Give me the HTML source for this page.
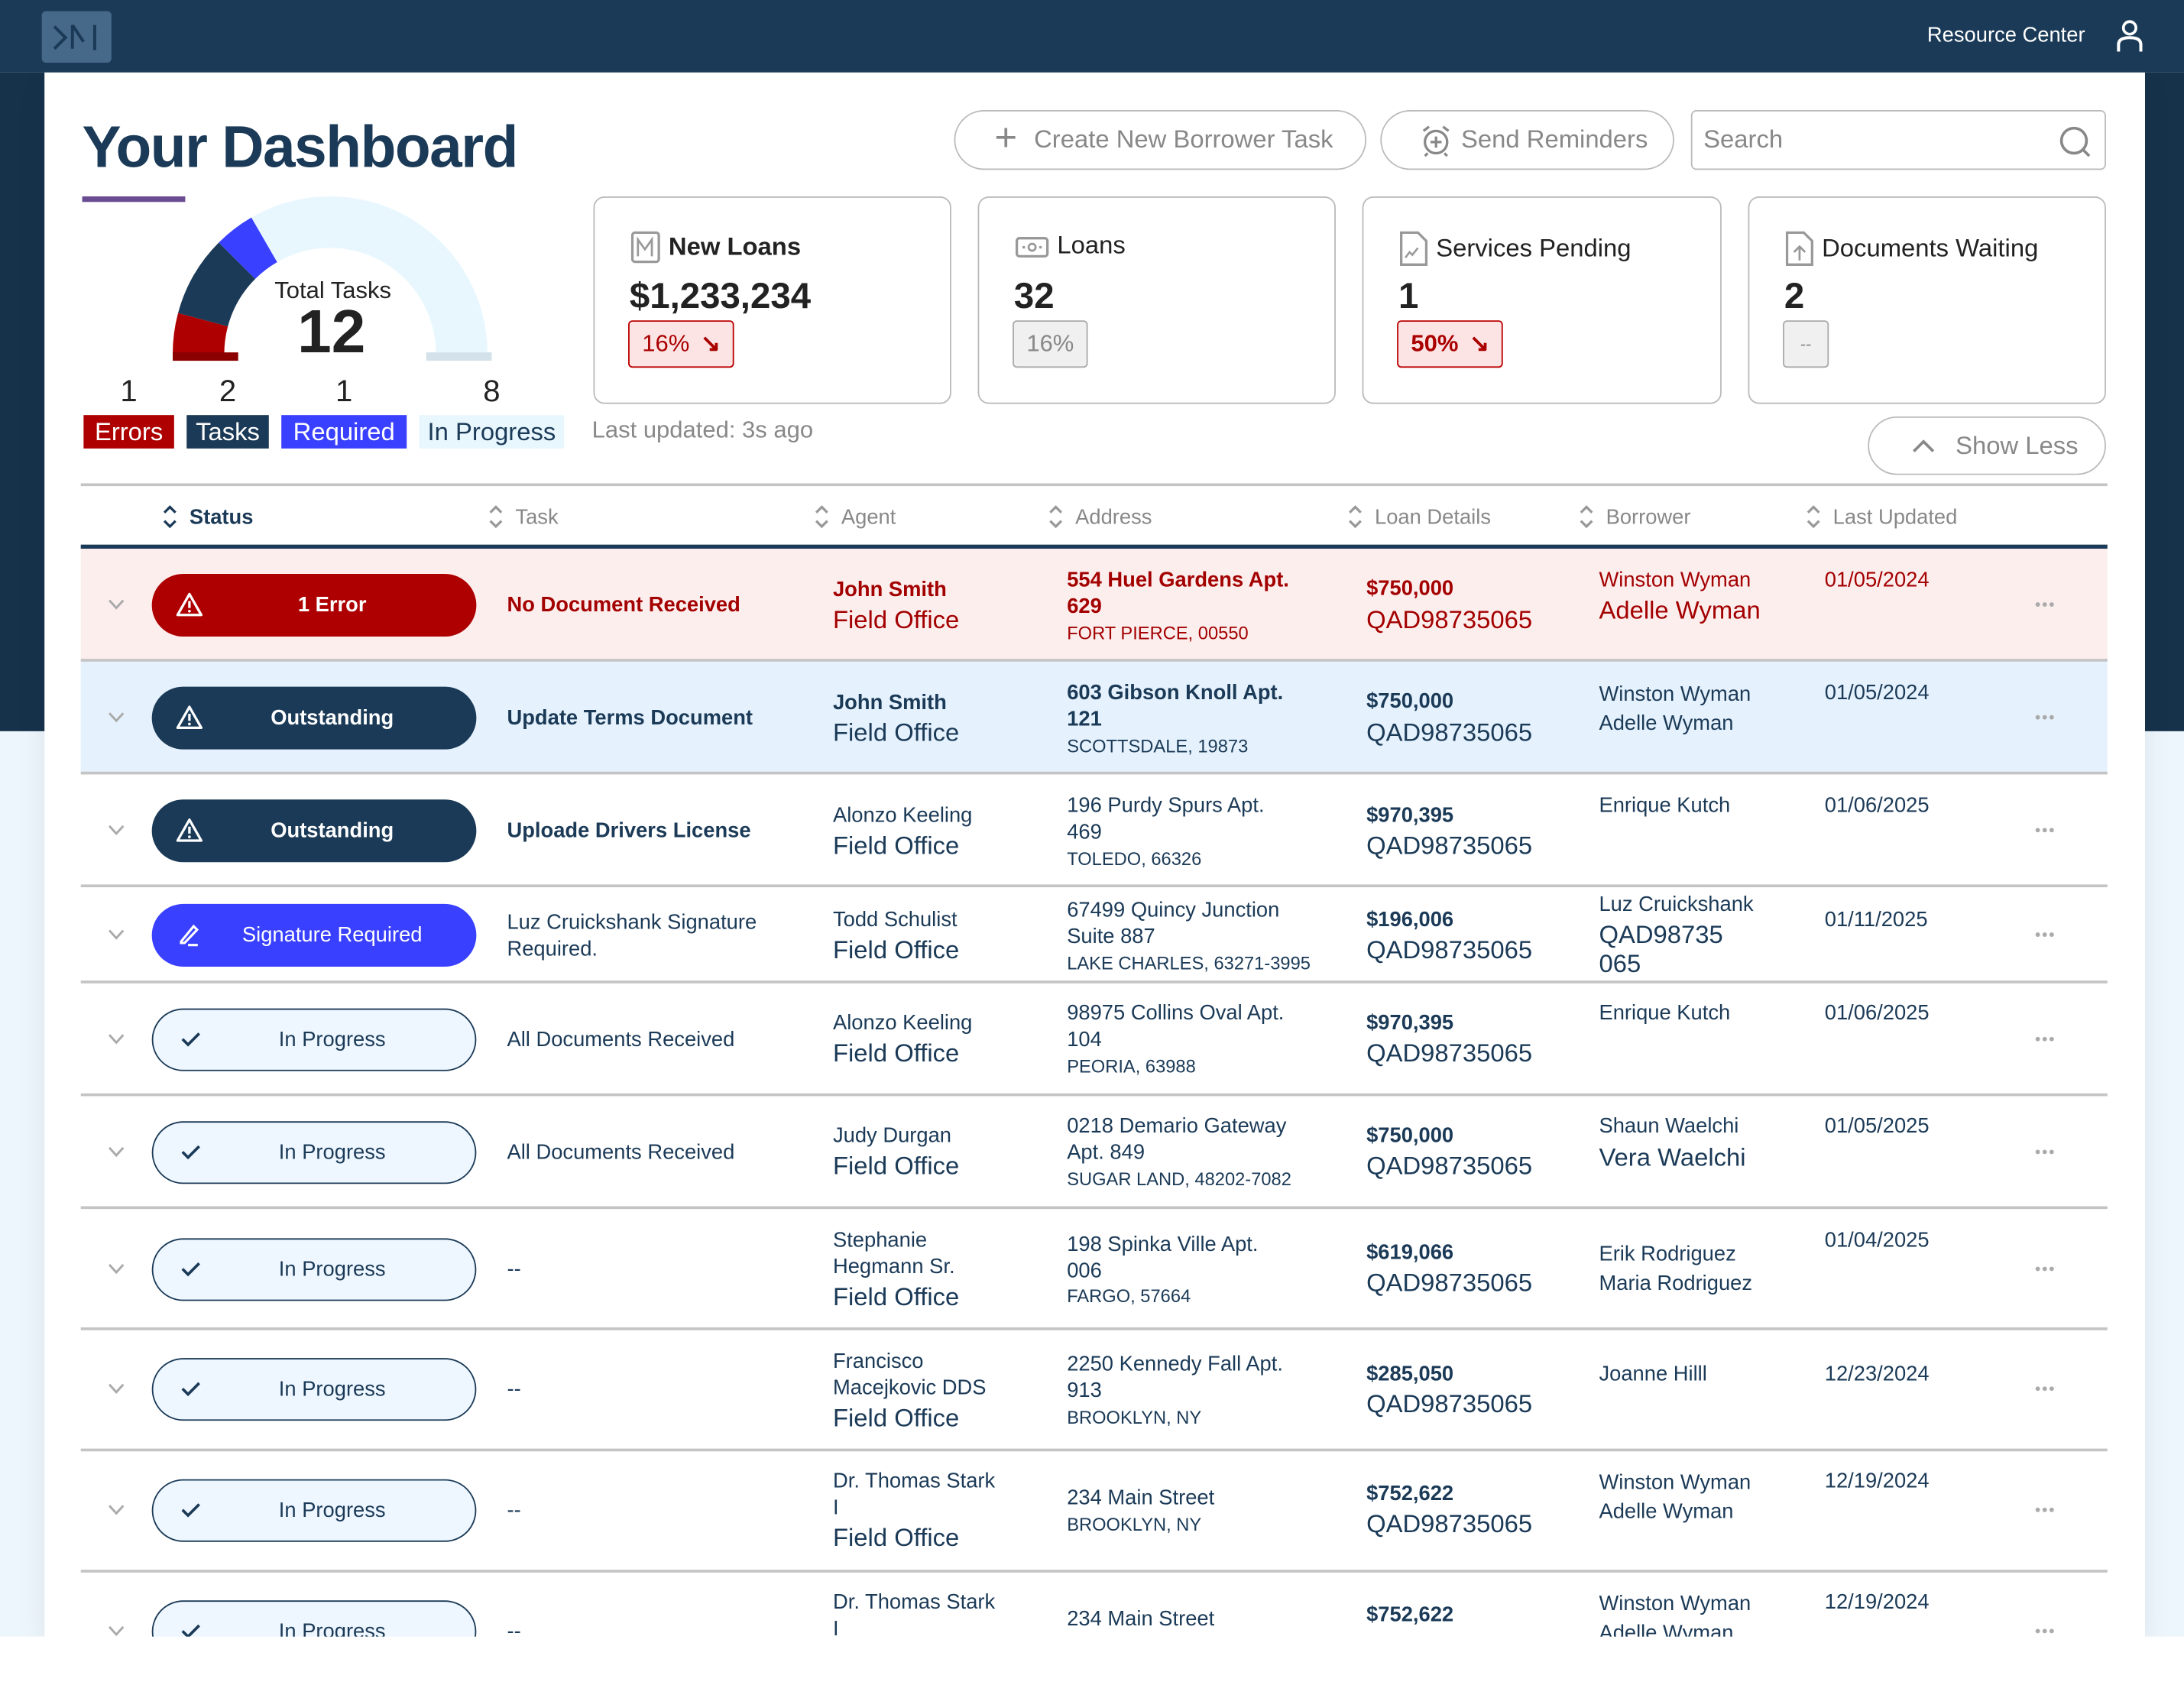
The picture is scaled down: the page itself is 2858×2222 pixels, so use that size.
<!DOCTYPE html>
<html><head><meta charset="utf-8">
<style>
*{box-sizing:border-box;margin:0;padding:0}
html,body{width:2858px;height:2222px;overflow:hidden;background:#fff;font-family:"Liberation Sans",sans-serif}
#root{position:absolute;left:0;top:0;width:1568px;height:1219px;transform:scale(1.822704);transform-origin:0 0;background:#fff;overflow:hidden}
.a{position:absolute;white-space:nowrap}
.a > svg{display:block}
.btn{position:absolute;border:1.5px solid #bbb;border-radius:22px;color:#888;font-size:18px;display:flex;align-items:center;background:#fff}
.card{position:absolute;top:141px;height:149px;border:1.5px solid #bbb;border-radius:8px;background:#fff}
.ct{position:absolute;left:26px;top:24px;font-size:18px;color:#222;display:flex;align-items:center;gap:6px}
.cv{position:absolute;left:25px;top:55px;font-size:26px;font-weight:bold;color:#222}
.bd{position:absolute;left:24px;top:88px;height:34px;border-radius:3px;font-size:17px;display:flex;align-items:center;padding:0 9px}
.red{border:1.5px solid #b00;background:#fde4e4;color:#a00}
.gray{border:1.5px solid #aaa;background:#f0f0f0;color:#888}
.hd{position:absolute;top:362px;font-size:15px;color:#888;display:flex;align-items:center;gap:8px}
.line{position:absolute;left:58px;width:1455px;height:2px;background:#c4c4c4}
.pill{position:absolute;left:109px;width:233px;height:45px;border-radius:23px;display:flex;align-items:center;font-size:15px}
.pill svg{position:absolute;left:17px}
.pill span{position:absolute;left:26px;right:0;text-align:center}
</style></head>
<body>
<div id="root">
  <div class="a" style="left:0;top:52px;width:32px;height:473px;background:#16324b"></div>
  <div class="a" style="left:1540px;top:52px;width:28px;height:473px;background:#16324b"></div>
  <div class="a" style="left:0;top:525px;width:32px;height:650px;background:#eef6fd"></div>
  <div class="a" style="left:1540px;top:525px;width:28px;height:650px;background:#eef6fd"></div>
  <div class="a" style="left:32px;top:52px;width:1508px;height:1123px;background:#fff;box-shadow:0 8px 20px rgba(0,0,0,0.08)"></div>

  <div class="a" style="left:0;top:0;width:1568px;height:52px;background:#1b3a57">
    <div class="a" style="left:30px;top:8px;width:50px;height:37px;background:#46698a;border-radius:3px">
      <svg width="50" height="37" viewBox="0 0 50 37"><path d="M9 11 L17 19 L9 27 M22 10 L22 27 M22 10 L30 22 M38 10 L38 28" stroke="#1b3a57" stroke-width="2.2" fill="none"/></svg>
    </div>
    <div class="a" style="right:71px;top:17px;font-size:15px;color:#fff">Resource Center</div>
    <svg class="a" style="left:1518px;top:14px" width="22" height="24" viewBox="0 0 22 24"><circle cx="11" cy="6" r="4.5" stroke="#fff" stroke-width="2" fill="none"/><path d="M3 23 V18 Q3 13 11 13 Q19 13 19 18 V23" stroke="#fff" stroke-width="2.2" fill="none"/></svg>
  </div>

  <div class="a" style="left:59px;top:82px;font-size:42px;font-weight:bold;color:#1b3a57;letter-spacing:-0.8px">Your Dashboard</div>
  <div class="a" style="left:59px;top:141px;width:74px;height:4px;background:#6a4c93"></div>

  <svg class="a" id="gauge" style="left:0;top:0" width="420" height="340"></svg>

  <div class="btn" style="left:685px;top:79px;width:296px;height:43px;padding-left:28px"><span style="font-size:28px;font-weight:300;margin-right:12px;margin-top:-3px">+</span>Create New Borrower Task</div>
  <div class="btn" style="left:991px;top:79px;width:211px;height:43px;padding-left:26px"><svg width="26" height="26" viewBox="0 0 26 26" style="margin-right:5px"><circle cx="13" cy="14" r="8" stroke="#888" stroke-width="1.8" fill="none"/><path d="M13 10v8M9 14h8M4 6l4-3M22 6l-4-3M7 22l-2 2M19 22l2 2" stroke="#888" stroke-width="1.8"/></svg>Send Reminders</div>
  <div class="btn" style="left:1214px;top:79px;width:298px;height:43px;border-radius:4px;padding-left:8px">Search<svg class="a" style="right:8px;top:9px" width="26" height="26" viewBox="0 0 26 26"><circle cx="12" cy="12" r="9" stroke="#888" stroke-width="2" fill="none"/><path d="M18.5 18.5 L23 23" stroke="#888" stroke-width="2"/></svg></div>

  <div class="card" style="left:426px;width:257px">
    <div class="ct" style="font-weight:bold"><svg width="21" height="23" viewBox="0 0 21 23"><rect x="1" y="1" width="19" height="21" rx="2" stroke="#999" stroke-width="1.8" fill="none"/><path d="M5 18V6l5 7 5-7v12" stroke="#999" stroke-width="1.5" fill="none"/></svg>New Loans</div>
    <div class="cv">$1,233,234</div>
    <div class="bd red">16% <b style="margin-left:8px">&#8600;</b></div>
  </div>
  <div class="card" style="left:702px;width:257px">
    <div class="ct"><svg width="24" height="18" viewBox="0 0 24 18"><rect x="1" y="3" width="22" height="13" rx="2" stroke="#999" stroke-width="1.8" fill="none"/><circle cx="12" cy="9.5" r="2.5" stroke="#999" stroke-width="1.5" fill="none"/><circle cx="6" cy="9.5" r="1" fill="#999"/><circle cx="18" cy="9.5" r="1" fill="#999"/></svg>Loans</div>
    <div class="cv">32</div>
    <div class="bd gray">16%</div>
  </div>
  <div class="card" style="left:978px;width:258px">
    <div class="ct"><svg width="20" height="25" viewBox="0 0 20 25"><path d="M1 1h12l6 6v17H1z" stroke="#999" stroke-width="1.8" fill="none"/><path d="M4 19l3-4 2 2 4-5" stroke="#999" stroke-width="1.4" fill="none"/></svg>Services Pending</div>
    <div class="cv">1</div>
    <div class="bd red" style="font-weight:bold">50% <b style="margin-left:8px">&#8600;</b></div>
  </div>
  <div class="card" style="left:1255px;width:257px">
    <div class="ct"><svg width="20" height="25" viewBox="0 0 20 25"><path d="M1 1h12l6 6v17H1z" stroke="#999" stroke-width="1.8" fill="none"/><path d="M10 21v-9M6 15l4-4 4 4" stroke="#999" stroke-width="1.5" fill="none"/></svg>Documents Waiting</div>
    <div class="cv">2</div>
    <div class="bd gray" style="width:33px;padding:0;justify-content:center;font-size:12px">--</div>
  </div>
  <div class="a" style="left:425px;top:299px;font-size:17px;color:#888">Last updated: 3s ago</div>
  <div class="btn" style="left:1341px;top:299px;width:171px;height:42px;padding-left:30px"><svg width="18" height="12" viewBox="0 0 18 12" style="margin-right:14px"><path d="M2 10 L9 3 L16 10" stroke="#888" stroke-width="2" fill="none"/></svg>Show Less</div>

  <div class="line" style="top:347px"></div>
  <div class="a" style="left:58px;top:391px;width:1455px;height:3px;background:#1b3a57"></div>
  <div id="headers"></div>
  <div id="rows"></div>
  <div class="a" style="left:0;top:1175px;width:1568px;height:44px;background:#fff"></div>
</div>
<script>
// ---- Gauge data ----
const gaugeLabels = ["Errors", "Tasks", "Required", "In Progress"];
const gaugeValues = [1, 2, 1, 8];
const gaugeFill = ["#ae0000", "#1b3a57", "#3940ff", "#e8f7fe"];
const gaugeText = ["#fff", "#fff", "#fff", "#1b3a57"];

const NS = "http://www.w3.org/2000/svg";
const g = document.getElementById('gauge');
const cx = 237, cy = 254, ro = 113, ri = 76;
const total = gaugeValues.reduce((a, b) => a + b, 0);
function pt(r, deg) { const a = Math.PI * (1 - deg / 180); return [cx + r * Math.cos(a), cy - r * Math.sin(a)]; }
function angleScale(v) { return v / total * 180; }
let acc = 0;
gaugeValues.forEach((v, i) => {
  const a0 = angleScale(acc), a1 = angleScale(acc + v); acc += v;
  const p0 = pt(ro, a0), p1 = pt(ro, a1), p2 = pt(ri, a1), p3 = pt(ri, a0);
  const large = (a1 - a0) > 180 ? 1 : 0;
  const p = document.createElementNS(NS, 'path');
  p.setAttribute('d', `M${p0[0]},${p0[1]} A${ro},${ro} 0 ${large} 1 ${p1[0]},${p1[1]} L${p2[0]},${p2[1]} A${ri},${ri} 0 ${large} 0 ${p3[0]},${p3[1]} Z`);
  p.setAttribute('fill', gaugeFill[i]);
  
  
  g.appendChild(p);
});
[[cx - ro + 5, "#8b0000"], [cx + ri - 2, "#d3e2ea"]].forEach(c => {
  const r = document.createElementNS(NS, 'rect');
  r.setAttribute('x', c[0] - 5); r.setAttribute('y', cy - 1); r.setAttribute('width', 47); r.setAttribute('height', 6); r.setAttribute('fill', c[1]);
  
  
  g.appendChild(r);
});
function svgText(x, y, t, size, weight, fill) {
  const e = document.createElementNS(NS, 'text');
  e.setAttribute('x', x); e.setAttribute('y', y); e.setAttribute('text-anchor', 'middle');
  e.setAttribute('font-size', size); e.setAttribute('font-weight', weight); e.setAttribute('fill', fill);
  e.setAttribute('font-family', 'Liberation Sans, sans-serif');
  e.textContent = t; g.appendChild(e); return e;
}
const tt = svgText(239, 214, "Total Tasks", 17, "normal", "#222");


const tv = svgText(238, 253, String(total), 44, "bold", "#222");


const legX = [[60, 65], [134, 59], [202, 90], [301, 104]];
gaugeLabels.forEach((l, i) => {
  const [x, w] = legX[i];
  const n = svgText(x + w / 2, 288, String(gaugeValues[i]), 22, "normal", "#222");
  
  
  const r = document.createElementNS(NS, 'rect');
  r.setAttribute('x', x); r.setAttribute('y', 298); r.setAttribute('width', w); r.setAttribute('height', 24); r.setAttribute('fill', gaugeFill[i]);
  
  
  g.appendChild(r);
  const t = svgText(x + w / 2, 316, l, 18, "normal", gaugeText[i]);
  
  
});

// ---- Table headers ----
const headers = [["Status", 114, true], ["Task", 348], ["Agent", 582], ["Address", 750], ["Loan Details", 965], ["Borrower", 1131], ["Last Updated", 1294]];
const hc = document.getElementById('headers');
headers.forEach(h => {
  const d = document.createElement('div');
  d.className = 'hd';
  d.style.left = (h[1] + 2) + 'px';
  if (h[2]) { d.style.color = '#1b3a57'; d.style.fontWeight = 'bold'; }
  const col = h[2] ? '#1b3a57' : '#999';
  d.innerHTML = `<svg width="12" height="18" viewBox="0 0 12 18"><path d="M2 6 L6 2 L10 6 M2 12 L6 16 L10 12" stroke="${col}" stroke-width="1.8" fill="none"/></svg>${h[0]}`;
  
  
  hc.appendChild(d);
});

// ---- Rows ----
const rows = [
 {top:393,h:81,bg:"#fdeeee",red:true,kind:"error",label:"1 Error",py:434,cells:[
  [364,434,"No Document Received",15,1],[598,423,"John Smith",15,1],[598,445,"Field Office",18,0],
  [766,416,"554 Huel Gardens Apt.",15,1],[766,435,"629",15,1],[766,454,"FORT PIERCE, 00550",13,0],
  [981,422,"$750,000",15,1],[981,445,"QAD98735065",18,0],[1148,416,"Winston Wyman",15,0],[1148,438,"Adelle Wyman",18,0],[1310,416,"01/05/2024",15,0]]},
 {top:474,h:81,bg:"#e5f2fd",kind:"out",label:"Outstanding",py:515,cells:[
  [364,515,"Update Terms Document",15,1],[598,504,"John Smith",15,1],[598,526,"Field Office",18,0],
  [766,497,"603 Gibson Knoll Apt.",15,1],[766,516,"121",15,1],[766,535,"SCOTTSDALE, 19873",13,0],
  [981,503,"$750,000",15,1],[981,526,"QAD98735065",18,0],[1148,498,"Winston Wyman",15,0],[1148,519,"Adelle Wyman",15,0],[1310,497,"01/05/2024",15,0]]},
 {top:555,h:81,kind:"out",label:"Outstanding",py:596,cells:[
  [364,596,"Uploade Drivers License",15,1],[598,585,"Alonzo Keeling",15,0],[598,607,"Field Office",18,0],
  [766,578,"196 Purdy Spurs Apt.",15,0],[766,597,"469",15,0],[766,616,"TOLEDO, 66326",13,0],
  [981,585,"$970,395",15,1],[981,607,"QAD98735065",18,0],[1148,578,"Enrique Kutch",15,0],[1310,578,"01/06/2025",15,0]]},
 {top:636,h:69,kind:"sig",label:"Signature Required",py:671,cells:[
  [364,662,"Luz Cruickshank Signature",15,0],[364,681,"Required.",15,0],[598,660,"Todd Schulist",15,0],[598,682,"Field Office",18,0],
  [766,653,"67499 Quincy Junction",15,0],[766,672,"Suite 887",15,0],[766,691,"LAKE CHARLES, 63271-3995",13,0],
  [981,660,"$196,006",15,1],[981,682,"QAD98735065",18,0],[1148,649,"Luz Cruickshank",15,0],[1148,671,"QAD98735",18,0],[1148,692,"065",18,0],[1310,660,"01/11/2025",15,0]]},
 {top:705,h:81,kind:"prog",label:"In Progress",py:746,cells:[
  [364,746,"All Documents Received",15,0],[598,734,"Alonzo Keeling",15,0],[598,756,"Field Office",18,0],
  [766,727,"98975 Collins Oval Apt.",15,0],[766,746,"104",15,0],[766,765,"PEORIA, 63988",13,0],
  [981,734,"$970,395",15,1],[981,756,"QAD98735065",18,0],[1148,727,"Enrique Kutch",15,0],[1310,727,"01/06/2025",15,0]]},
 {top:786,h:81,kind:"prog",label:"In Progress",py:827,cells:[
  [364,827,"All Documents Received",15,0],[598,815,"Judy Durgan",15,0],[598,837,"Field Office",18,0],
  [766,808,"0218 Demario Gateway",15,0],[766,827,"Apt. 849",15,0],[766,846,"SUGAR LAND, 48202-7082",13,0],
  [981,815,"$750,000",15,1],[981,837,"QAD98735065",18,0],[1148,808,"Shaun Waelchi",15,0],[1148,831,"Vera Waelchi",18,0],[1310,808,"01/05/2025",15,0]]},
 {top:867,h:87,kind:"prog",label:"In Progress",py:911,cells:[
  [364,911,"--",15,0],[598,890,"Stephanie",15,0],[598,909,"Hegmann Sr.",15,0],[598,931,"Field Office",18,0],
  [766,893,"198 Spinka Ville Apt.",15,0],[766,912,"006",15,0],[766,930,"FARGO, 57664",13,0],
  [981,899,"$619,066",15,1],[981,921,"QAD98735065",18,0],[1148,900,"Erik Rodriguez",15,0],[1148,921,"Maria Rodriguez",15,0],[1310,890,"01/04/2025",15,0]]},
 {top:954,h:87,kind:"prog",label:"In Progress",py:997,cells:[
  [364,997,"--",15,0],[598,977,"Francisco",15,0],[598,996,"Macejkovic DDS",15,0],[598,1018,"Field Office",18,0],
  [766,979,"2250 Kennedy Fall Apt.",15,0],[766,998,"913",15,0],[766,1017,"BROOKLYN, NY",13,0],
  [981,986,"$285,050",15,1],[981,1008,"QAD98735065",18,0],[1148,986,"Joanne Hilll",15,0],[1310,986,"12/23/2024",15,0]]},
 {top:1041,h:87,kind:"prog",label:"In Progress",py:1084,cells:[
  [364,1084,"--",15,0],[598,1063,"Dr. Thomas Stark",15,0],[598,1082,"I",15,0],[598,1104,"Field Office",18,0],
  [766,1075,"234 Main Street",15,0],[766,1094,"BROOKLYN, NY",13,0],
  [981,1072,"$752,622",15,1],[981,1094,"QAD98735065",18,0],[1148,1064,"Winston Wyman",15,0],[1148,1085,"Adelle Wyman",15,0],[1310,1063,"12/19/2024",15,0]]},
 {top:1128,h:87,kind:"prog",label:"In Progress",py:1171,cells:[
  [364,1171,"--",15,0],[598,1150,"Dr. Thomas Stark",15,0],[598,1169,"I",15,0],
  [766,1162,"234 Main Street",15,0],[981,1159,"$752,622",15,1],[1148,1151,"Winston Wyman",15,0],[1148,1172,"Adelle Wyman",15,0],[1310,1150,"12/19/2024",15,0]]}
];
const icons = {
  error: '<svg width="20" height="18" viewBox="0 0 20 18"><path d="M10 1.5 L18.5 16.5 H1.5 Z" stroke="#fff" stroke-width="1.8" fill="none" stroke-linejoin="round"/><path d="M10 6.5v5" stroke="#fff" stroke-width="1.8"/><circle cx="10" cy="13.8" r="1" fill="#fff"/></svg>',
  sig: '<svg width="20" height="18" viewBox="0 0 20 18"><path d="M4 14 L13 3 L15.5 5.5 L6.5 15 H4 Z" stroke="#fff" stroke-width="1.7" fill="none"/><path d="M9 16.5h7" stroke="#fff" stroke-width="1.7"/></svg>',
  prog: '<svg width="20" height="18" viewBox="0 0 20 18"><path d="M4 9 L8 13 L16 5" stroke="#1b3a57" stroke-width="2" fill="none"/></svg>'
};
icons.out = icons.error;
const pillStyle = {
  error: "background:#ae0000;color:#fff;font-weight:bold",
  out: "background:#1b3a57;color:#fff;font-weight:bold",
  sig: "background:#3940ff;color:#fff",
  prog: "background:#eef7ff;color:#1b3a57;border:1.5px solid #1b3a57"
};
const rc = document.getElementById('rows');
rows.forEach((r, i) => {
  const color = r.red ? "#a30000" : "#1b3a57";
  if (r.bg) {
    const b = document.createElement('div');
    b.className = 'a';
    b.style.cssText = `left:58px;top:${r.top + (i === 0 ? 1 : 0)}px;width:1455px;height:${r.h}px;background:${r.bg}`;
    
    
    rc.appendChild(b);
  }
  if (i > 0) {
    const l = document.createElement('div');
    l.className = 'line';
    l.style.top = (r.top - 1) + 'px';
    
    
    rc.appendChild(l);
  }
  const ch = document.createElement('div');
  ch.className = 'a';
  ch.style.cssText = `left:77px;top:${r.py - 5}px`;
  ch.innerHTML = '<svg width="13" height="10" viewBox="0 0 13 10"><path d="M1.5 2 L6.5 7.5 L11.5 2" stroke="#aaa" stroke-width="1.6" fill="none"/></svg>';
  
  
  rc.appendChild(ch);
  const p = document.createElement('div');
  p.className = 'pill';
  p.style.cssText = `top:${r.py - 22.5}px;${pillStyle[r.kind]}`;
  p.innerHTML = icons[r.kind] + `<span>${r.label}</span>`;
  
  
  rc.appendChild(p);
  r.cells.forEach(c => {
    const t = document.createElement('div');
    t.className = 'a';
    const lh = c[3] + 4;
    t.style.cssText = `left:${c[0]}px;top:${c[1] - lh / 2}px;line-height:${lh}px;font-size:${c[3]}px;font-weight:${c[4] ? 'bold' : 'normal'};color:${color}`;
    t.textContent = c[2];
    
    
    rc.appendChild(t);
  });
  const m = document.createElement('div');
  m.className = 'a';
  m.style.cssText = `left:1460px;top:${r.py - 3}px`;
  m.innerHTML = '<svg width="16" height="6" viewBox="0 0 16 6"><circle cx="3" cy="3" r="1.6" fill="#aaa"/><circle cx="8" cy="3" r="1.6" fill="#aaa"/><circle cx="13" cy="3" r="1.6" fill="#aaa"/></svg>';
  
  
  rc.appendChild(m);
});
</script>
</body></html>
